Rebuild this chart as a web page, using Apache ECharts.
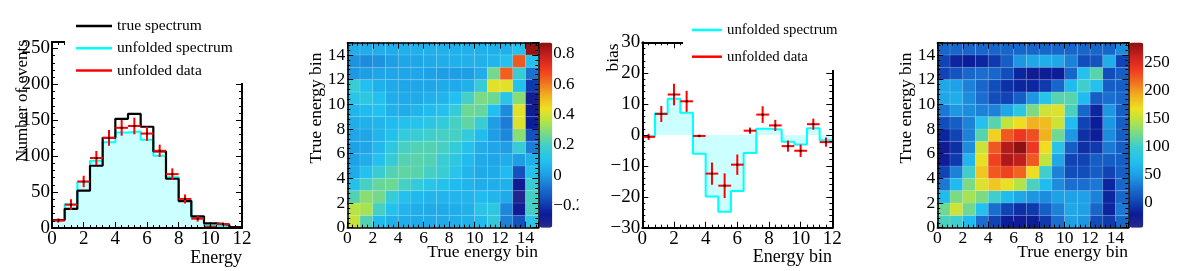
<!DOCTYPE html>
<html>
<head>
<meta charset="utf-8">
<script src="https://cdn.jsdelivr.net/npm/echarts@6/dist/echarts.min.js"></script>
<style>
  html, body { margin: 0; padding: 0; background: #fff; }
  #chart { width: 1182px; height: 271px; }
</style>
</head>
<body>
<div id="chart"></div>
<script>
// bin edges for the 1D histograms (15 bins, 0..12)
const edges = [0, 0.8, 1.6, 2.4, 3.2, 4.0, 4.8, 5.6, 6.4, 7.2, 8.0, 8.8, 9.6, 10.4, 11.2, 12];

// panel 1: spectra
const trueSpec   = [11, 26.5, 52, 86.7, 125.6, 152, 159, 141, 106.6, 68.6, 37.5, 16.2, 6.5, 4.6, 1.4];
const unfoldSpec = [11, 33, 64, 93.6, 119.5, 133, 134.4, 123, 100.5, 70.5, 38.5, 14.2, 3, 3.5, 0.5];
const unfoldData = [10.5, 32.5, 64.8, 97.5, 125.4, 139.5, 142, 131.5, 107.5, 75, 40.5, 13, 1.6, 5.5, 0.2];
const unfoldErr  = [3, 7.4, 8, 9.7, 11, 11, 11.6, 10, 8.6, 8.1, 6.3, 4, 2, 2, 1];

// panel 3: bias
const biasSpec = [-0.4, 7.0, 11.7, 7.2, -6.1, -19.9, -24.8, -18.1, -5.8, 2.0, 1.8, -2.2, -3.1, 2.2, -1.7];
const biasData = [-0.6, 6.8, 13.1, 10.9, -0.3, -12.5, -16.4, -9.6, 1.4, 6.6, 3.1, -3.6, -5.1, 3.5, -2.3];
const biasErr  = [1, 2.6, 3.5, 3.4, 0.4, 3.6, 4, 3.3, 1, 2.7, 1.8, 1.8, 2, 1.8, 1.5];

// panel 2: correlation matrix, rows = y bin 0..14, columns = x bin 0..14
const corr = [
  [0.38, 0.22, 0.08, 0.05, 0.04, 0.03, 0.03, 0.03, 0.04, 0.05, 0.08, 0.15, -0.05, -0.15, 0.12],
  [0.36, 0.34, 0.20, 0.10, 0.06, 0.04, 0.03, 0.03, 0.04, 0.05, 0.12, 0.14, -0.04, -0.27, 0.20],
  [0.22, 0.30, 0.27, 0.17, 0.10, 0.07, 0.06, 0.06, 0.06, 0.06, 0.08, 0.06, 0.03, -0.32, 0.20],
  [0.10, 0.20, 0.25, 0.26, 0.20, 0.16, 0.12, 0.10, 0.08, 0.06, 0.04, 0.04, 0.05, -0.27, 0.18],
  [0.03, 0.10, 0.18, 0.22, 0.24, 0.23, 0.20, 0.18, 0.12, 0.06, 0.03, 0.03, 0.08, -0.15, 0.10],
  [0.01, 0.04, 0.10, 0.17, 0.22, 0.23, 0.22, 0.18, 0.14, 0.08, 0.03, 0.02, 0.04, 0.00, 0.05],
  [0.01, 0.02, 0.07, 0.14, 0.20, 0.22, 0.22, 0.20, 0.16, 0.10, 0.04, 0.02, 0.00, 0.17, -0.06],
  [0.02, 0.02, 0.06, 0.10, 0.16, 0.18, 0.19, 0.20, 0.20, 0.16, 0.08, 0.00, -0.04, 0.30, -0.15],
  [0.04, 0.05, 0.06, 0.08, 0.10, 0.11, 0.13, 0.16, 0.20, 0.24, 0.18, 0.00, -0.06, 0.41, -0.25],
  [0.06, 0.08, 0.09, 0.05, 0.04, 0.06, 0.08, 0.10, 0.17, 0.26, 0.25, 0.09, -0.03, 0.42, -0.27],
  [0.12, 0.14, 0.09, 0.04, 0.03, 0.03, 0.05, 0.06, 0.09, 0.20, 0.28, 0.26, 0.12, 0.30, -0.28],
  [0.18, 0.09, 0.05, 0.03, 0.02, 0.02, 0.02, 0.03, 0.03, 0.05, 0.17, 0.42, 0.42, 0.10, -0.20],
  [-0.01, 0.00, 0.02, 0.02, 0.02, 0.02, 0.01, 0.00, 0.00, 0.00, 0.04, 0.27, 0.64, 0.18, -0.08],
  [-0.02, -0.03, -0.02, 0.00, 0.02, 0.02, 0.03, 0.04, 0.05, 0.05, 0.05, 0.06, 0.10, 0.65, 0.10],
  [0.04, 0.04, 0.04, 0.04, 0.05, 0.05, 0.05, 0.05, 0.05, 0.05, 0.05, 0.05, 0.05, 0.10, 0.86]
];

// panel 4: covariance matrix
const cov = [
  [105, 100, 70, 25, 0, -20, -25, -20, -5, 25, 50, 45, 5, -5, 20],
  [120, 155, 120, 75, 25, 0, -10, -5, 15, 35, 55, 50, 20, -15, 30],
  [70, 125, 140, 125, 100, 70, 55, 45, 40, 50, 50, 50, 35, -15, 20],
  [30, 70, 125, 160, 180, 165, 145, 105, 70, 40, 25, 25, 30, -15, 20],
  [0, 35, 100, 180, 225, 235, 220, 170, 100, 35, 5, 5, 15, 0, 15],
  [-25, -5, 65, 165, 235, 272, 265, 225, 150, 55, 0, 0, 15, 15, 15],
  [-25, -10, 40, 155, 225, 270, 284, 240, 170, 80, 15, -10, -5, 30, 15],
  [-15, 0, 35, 110, 175, 225, 240, 230, 190, 120, 45, -10, -20, 40, 15],
  [5, 15, 35, 75, 110, 150, 170, 190, 185, 155, 70, 0, -20, 45, 15],
  [30, 45, 40, 35, 35, 55, 85, 125, 155, 160, 105, 20, -15, 45, 15],
  [55, 60, 40, 25, 5, 0, 15, 45, 80, 110, 110, 70, 15, 25, 20],
  [55, 50, 35, 20, 5, -10, -15, -15, -5, 20, 70, 100, 75, 15, 15],
  [0, 10, 20, 25, 20, 5, -15, -25, -25, -20, 20, 75, 110, 5, 15],
  [0, -15, -20, -15, -5, 15, 45, 55, 60, 55, 35, 5, 10, 60, 0],
  [20, 20, 20, 20, 20, 20, 20, 20, 20, 20, 20, 20, 20, 20, 40]
];

const palette = ['#2a2a8a', '#0b1a96', '#1048b8', '#1a70d0', '#1ea0e6', '#22c0f0', '#38ccd4',
  '#70d890', '#b0e448', '#f0e020', '#f0b020', '#f07020', '#f03820', '#c82020', '#8a1010'];

const font = 'Liberation Serif';
const minus = v => String(v).replace('-', '\u2212');

function axis(gi, position, min, max, interval, labels, size, showMax, lw) {
  return {
    type: 'value', gridIndex: gi, position: position, min: min, max: max, interval: interval, z: 5,
    axisLine: { show: true, onZero: false, lineStyle: { color: '#000', width: lw || 2 } },
    axisTick: { show: true, inside: true, length: 6, lineStyle: { color: '#000', width: 1 } },
    minorTick: { show: true, splitNumber: 5, length: 3, lineStyle: { color: '#000', width: 1 } },
    splitLine: { show: false },
    axisLabel: { show: labels, color: '#000', fontFamily: font, fontSize: size || 19, margin: 2,
      showMaxLabel: showMax, formatter: minus }
  };
}

function stepData(vals) {
  return edges.map((e, i) => [e, vals[Math.min(i, vals.length - 1)]]);
}
function errData(vals, errs) {
  return vals.map((v, i) => [edges[i], edges[i + 1], v, errs[i]]);
}
function matData(m) {
  const out = [];
  m.forEach((row, j) => row.forEach((v, i) => out.push([i, j, v])));
  return out;
}

function errRender(params, api) {
  const lo = api.value(0), hi = api.value(1), y = api.value(2), e = api.value(3);
  const xm = (lo + hi) / 2;
  const pL = api.coord([lo, y]), pR = api.coord([hi, y]);
  const pT = api.coord([xm, y + e]), pB = api.coord([xm, y - e]);
  const c = api.coord([xm, y]);
  return { type: 'group', children: [
    { type: 'line', shape: { x1: pL[0], y1: pL[1], x2: pR[0], y2: pR[1] }, style: { stroke: '#ff0000', lineWidth: 2 } },
    { type: 'line', shape: { x1: pT[0], y1: pT[1], x2: pB[0], y2: pB[1] }, style: { stroke: '#ff0000', lineWidth: 2 } },
    { type: 'rect', shape: { x: c[0] - 1, y: c[1] - 1, width: 2, height: 2 }, style: { fill: '#000' } }
  ] };
}
function cellRender(params, api) {
  const i = api.value(0), j = api.value(1);
  const p0 = api.coord([i, j + 1]), p1 = api.coord([i + 1, j]);
  return { type: 'rect', shape: { x: p0[0], y: p0[1], width: p1[0] - p0[0], height: p1[1] - p0[1] },
    style: { fill: api.visual('color'), stroke: 'rgba(255,255,255,0.18)', lineWidth: 0.6 } };
}

const H = 185.1, T = 42.6;
const grids = [
  { left: 52, top: 42, width: 190, height: 186 },
  { left: 347.3, top: T, width: 191, height: H },
  { left: 539.3, top: T, width: 13, height: H },
  { left: 642.3, top: 42.3, width: 190, height: 185.4 },
  { left: 937.3, top: T, width: 191, height: H },
  { left: 1129.3, top: T, width: 14, height: H }
];

const hideAx = gi => ({ type: 'value', gridIndex: gi, min: 0, max: 1, show: false });
const cbAxis = (gi, min, max, split, fmt) => ({
  type: 'value', gridIndex: gi, position: 'right', min: min, max: max, splitNumber: split,
  axisLine: { show: false },
  axisTick: { show: true, inside: true, length: 3, lineStyle: { color: '#000' } },
  splitLine: { show: false },
  axisLabel: { color: '#000', fontFamily: font, fontSize: 17, margin: 1,
    showMinLabel: false, showMaxLabel: false, formatter: fmt }
});

const xAxes = [
  axis(0, 'bottom', 0, 12, 2, true, 19, true), axis(0, 'top', 0, 12, 2, false),
  axis(1, 'bottom', 0, 15, 2, true, 17.5, false, 1.5), axis(1, 'top', 0, 15, 2, false, 17.5, false, 1.5),
  hideAx(2),
  axis(3, 'bottom', 0, 12, 2, true, 19, true), axis(3, 'top', 0, 12, 2, false),
  axis(4, 'bottom', 0, 15, 2, true, 17.5, false, 1.5), axis(4, 'top', 0, 15, 2, false, 17.5, false, 1.5),
  hideAx(5)
];
const yAxes = [
  axis(0, 'left', 0, 259, 50, true, 19, false), axis(0, 'right', 0, 259, 50, false),
  axis(1, 'left', 0, 15, 2, true, 17.5, false, 1.5), axis(1, 'right', 0, 15, 2, false, 17.5, false, 1.5),
  cbAxis(2, -0.344, 0.874, 6, v => minus(Math.round(v * 10) / 10)),
  axis(3, 'left', -30, 30, 10, true, 19, true), axis(3, 'right', -30, 30, 10, false),
  axis(4, 'left', 0, 15, 2, true, 17.5, false, 1.5), axis(4, 'right', 0, 15, 2, false, 17.5, false, 1.5),
  cbAxis(5, -45, 286, 7, v => minus(Math.round(v)))
];

const txt = (x, y, s, align, size, rot) => ({
  type: 'text', x: x, y: y, rotation: rot || 0, z: 60,
  style: { text: s, fill: '#000', font: size + 'px "' + font + '"', align: align, verticalAlign: 'middle' }
});

const chart = echarts.init(document.getElementById('chart'), null, { renderer: 'canvas' });
chart.setOption({
  animation: false,
  backgroundColor: '#fff',
  textStyle: { fontFamily: font },
  grid: grids,
  xAxis: xAxes,
  yAxis: yAxes,
  visualMap: [
    { type: 'continuous', seriesIndex: 3, dimension: 2, min: -0.344, max: 0.874, calculable: false,
      left: 539.3, top: T, itemWidth: 13, itemHeight: H, padding: 0, text: null, showLabel: false,
      inRange: { color: palette } },
    { type: 'continuous', seriesIndex: 7, dimension: 2, min: -45, max: 286, calculable: false,
      left: 1129.3, top: T, itemWidth: 14, itemHeight: H, padding: 0, text: null, showLabel: false,
      inRange: { color: palette } }
  ],
  legend: [
    { z: 20, orient: 'vertical', left: 76, top: 18, padding: 0, itemGap: 6.3, itemWidth: 36, itemHeight: 2.5,
      icon: 'rect', selectedMode: false,
      textStyle: { fontFamily: font, fontSize: 15.5, lineHeight: 16, color: '#000' },
      data: [
        { name: 'true spectrum', itemStyle: { color: '#000' } },
        { name: 'unfolded spectrum', itemStyle: { color: '#00ffff' } },
        { name: 'unfolded data', itemStyle: { color: '#ff0000' } }
      ] },
    { z: 20, orient: 'vertical', left: 692, top: 22, padding: 0, itemGap: 10.7, itemWidth: 30, itemHeight: 2.5,
      icon: 'rect', selectedMode: false,
      textStyle: { fontFamily: font, fontSize: 14.8, lineHeight: 16, color: '#000' },
      data: [
        { name: 'unfolded spectrum', itemStyle: { color: '#00ffff' } },
        { name: 'unfolded data', itemStyle: { color: '#ff0000' } }
      ] }
  ],
  graphic: { elements: [
    { type: 'rect', z: 10, shape: { x: 65, y: 20, width: 185, height: 63 }, style: { fill: '#fff' } },
    { type: 'rect', z: 10, shape: { x: 683, y: 20, width: 160, height: 50 }, style: { fill: '#fff' } },
    { type: 'rect', z: 60, shape: { x: 578.5, y: 190, width: 11, height: 30 }, style: { fill: '#fff' } },
    txt(23, 101, 'Number of events', 'center', 17, Math.PI / 2),
    txt(242, 258, 'Energy', 'right', 18),
    txt(316.7, 108, 'True energy bin', 'center', 17.5, Math.PI / 2),
    txt(538, 252, 'True energy bin', 'right', 17.5),
    txt(613.3, 57.5, 'bias', 'center', 17.5, Math.PI / 2),
    txt(832, 257, 'Energy bin', 'right', 18),
    txt(906.7, 108, 'True energy bin', 'center', 17.5, Math.PI / 2),
    txt(1128, 252, 'True energy bin', 'right', 17.5)
  ] },
  series: [
    { name: 'unfolded spectrum', type: 'line', xAxisIndex: 0, yAxisIndex: 0, step: 'end', symbol: 'none',
      data: stepData(unfoldSpec), lineStyle: { color: '#00ffff', width: 2 },
      areaStyle: { color: '#ccffff', opacity: 1 }, z: 2 },
    { name: 'true spectrum', type: 'line', xAxisIndex: 0, yAxisIndex: 0, step: 'end', symbol: 'none',
      data: stepData(trueSpec), lineStyle: { color: '#000', width: 2.2 }, z: 3 },
    { name: 'unfolded data', type: 'custom', xAxisIndex: 0, yAxisIndex: 0, renderItem: errRender,
      data: errData(unfoldData, unfoldErr), z: 4 },
    { name: 'correlation', type: 'custom', xAxisIndex: 2, yAxisIndex: 2, renderItem: cellRender,
      data: matData(corr), z: 2 },
    { name: 'unfolded spectrum', type: 'line', xAxisIndex: 5, yAxisIndex: 5, step: 'end', symbol: 'none',
      data: stepData(biasSpec), lineStyle: { color: '#00ffff', width: 2 },
      areaStyle: { color: '#ccffff', opacity: 1, origin: 0 }, z: 2 },
    { name: 'unfolded data', type: 'custom', xAxisIndex: 5, yAxisIndex: 5, renderItem: errRender,
      data: errData(biasData, biasErr), z: 4 },
    { name: 'placeholder', type: 'line', xAxisIndex: 4, yAxisIndex: 4, data: [], silent: true },
    { name: 'covariance', type: 'custom', xAxisIndex: 7, yAxisIndex: 7, renderItem: cellRender,
      data: matData(cov), z: 2 }
  ]
});
</script>
</body>
</html>
